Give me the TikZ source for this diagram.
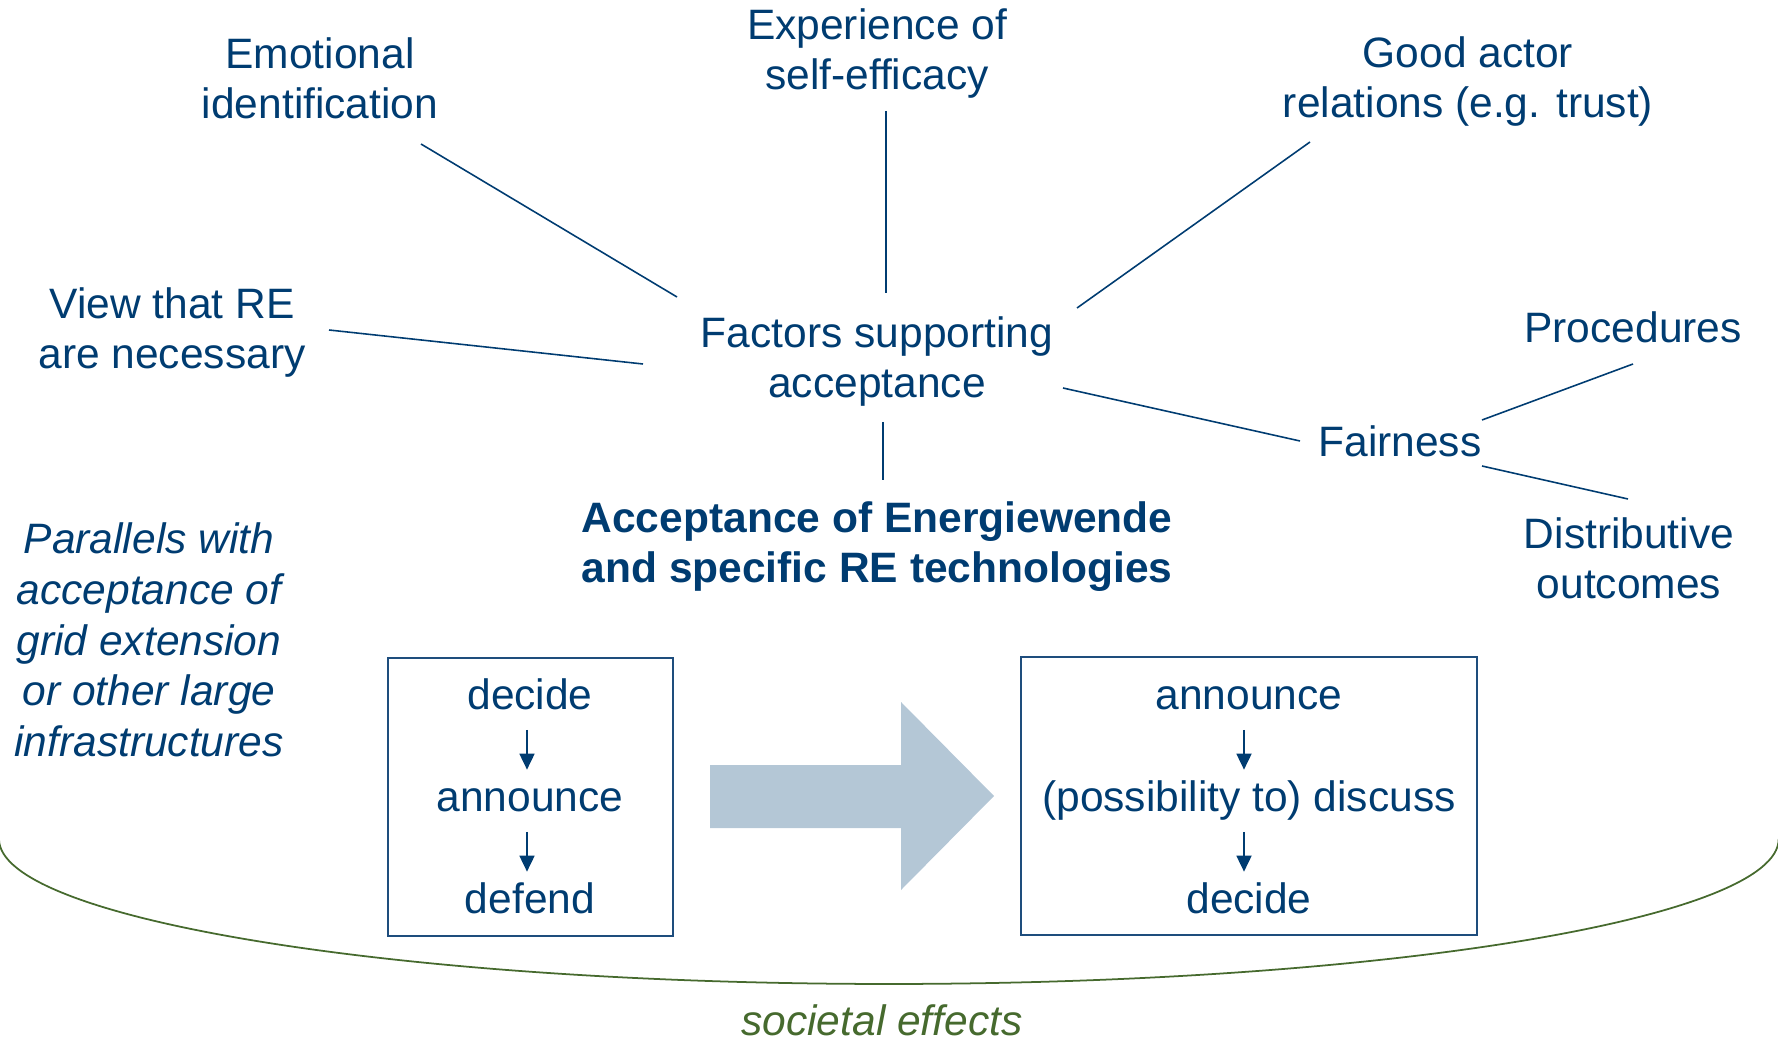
\documentclass[tikz,border=0pt]{standalone}
\usepackage{fontspec}
\setmainfont{Liberation Sans}
\usetikzlibrary{arrows.meta}
\definecolor{txtblue}{RGB}{0,60,113}
\definecolor{boxblue}{RGB}{30,77,125}
\definecolor{shiftblue}{RGB}{180,199,214}
\definecolor{socgreen}{RGB}{70,106,46}
\newcommand{\bodyfont}{\fontsize{24.2}{28.45}\selectfont}

\begin{document}
\begin{tikzpicture}[x=0.02cm,y=-0.02cm]
\tikzstyle{every node}+=[inner sep=0pt,text=txtblue,font=\bodyfont,align=center]
\tikzstyle{link}=[txtblue,line width=0.9pt]
\tikzstyle{steptext}=[text height=0.64cm,text depth=0.21cm,anchor=base]
\tikzstyle{flow}=[txtblue,line width=1pt,-{Triangle[length=0.32cm,width=0.3cm]},shorten <=0.2cm,shorten >=0.18cm]
\tikzstyle{procbox}=[draw=boxblue,line width=1.3pt,minimum height=5.56cm]
\useasboundingbox (0,0) rectangle (1778,1043);
\draw [socgreen,line width=1pt] (-1,839) arc[start angle=180,end angle=360,x radius=17.8cm,y radius=2.9cm];
\node (emo) at (320,78) {Emotional\\identification};
\node (exp) at (877,54) {Experience of\\self-efficacy};
\node (good) at (1468,82) {Good actor\\relations (e.g. trust)};
\node (view) at (172,333) {View that RE\\are necessary};
\node (fac) at (877,362) {Factors supporting\\acceptance};
\node [anchor=base] (proc) at (1633,343) {Procedures};
\node [anchor=base] (fair) at (1400,457) {Fairness};
\node (dist) at (1629,558) {Distributive\\outcomes};
\node [font=\bodyfont\bfseries] (accept) at (877,547) {Acceptance of Energiewende\\and specific RE technologies};
\node [font=\fontsize{24.2}{28.9}\selectfont\itshape] (para) at (149,640) {Parallels with\\acceptance of\\grid extension\\or other large\\infrastructures};
\draw [link] ([shift={(101,66)}]emo.center) -- ([shift={(-200,-65)}]fac.center);
\draw [link] ([shift={(9,57)}]exp.center) -- ([shift={(9,-69)}]fac.center);
\draw [link] ([shift={(-158,60)}]good.center) -- ([shift={(200,-54)}]fac.center);
\draw [link] ([shift={(157,-3)}]view.center) -- ([shift={(-234,2)}]fac.center);
\draw [link] ([shift={(186,26)}]fac.center) -- ([shift={(-100,-16)}]fair.base);
\draw [link] ([shift={(6,60)}]fac.center) -- ([shift={(6,-67)}]accept.center);
\draw [link] ([shift={(82,-37)}]fair.base) -- ([shift={(0,21)}]proc.base);
\draw [link] ([shift={(82,9)}]fair.base) -- ([shift={(-1,-59)}]dist.center);
\node [procbox,minimum width=5.7cm] (oldbox) at (530.5,797) {};
\node [procbox,minimum width=9.12cm] (newbox) at (1249,796) {};
\node [steptext] (old1) at (530,709) {decide};
\node [steptext] (old2) at (530,811) {announce};
\node [steptext] (old3) at (530,913) {defend};
\node [steptext] (new1) at (1249,709) {announce};
\node [steptext] (new2) at (1249,811) {(possibility to) discuss};
\node [steptext] (new3) at (1249,913) {decide};
\draw [flow] ([shift={(-3,0)}]old1.south) -- ([shift={(-3,0)}]old2.north);
\draw [flow] ([shift={(-3,0)}]old2.south) -- ([shift={(-3,0)}]old3.north);
\draw [flow] ([shift={(-5,0)}]new1.south) -- ([shift={(-5,0)}]new2.north);
\draw [flow] ([shift={(-5,0)}]new2.south) -- ([shift={(-5,0)}]new3.north);
\fill [shiftblue] (710,765) -- (901,765) -- (901,702) -- (994,796) -- (901,890) -- (901,828) -- (710,828) -- cycle;
\node [anchor=base,text=socgreen,font=\bodyfont\itshape] (soc) at (882,1035) {societal effects};
\end{tikzpicture}
\end{document}
